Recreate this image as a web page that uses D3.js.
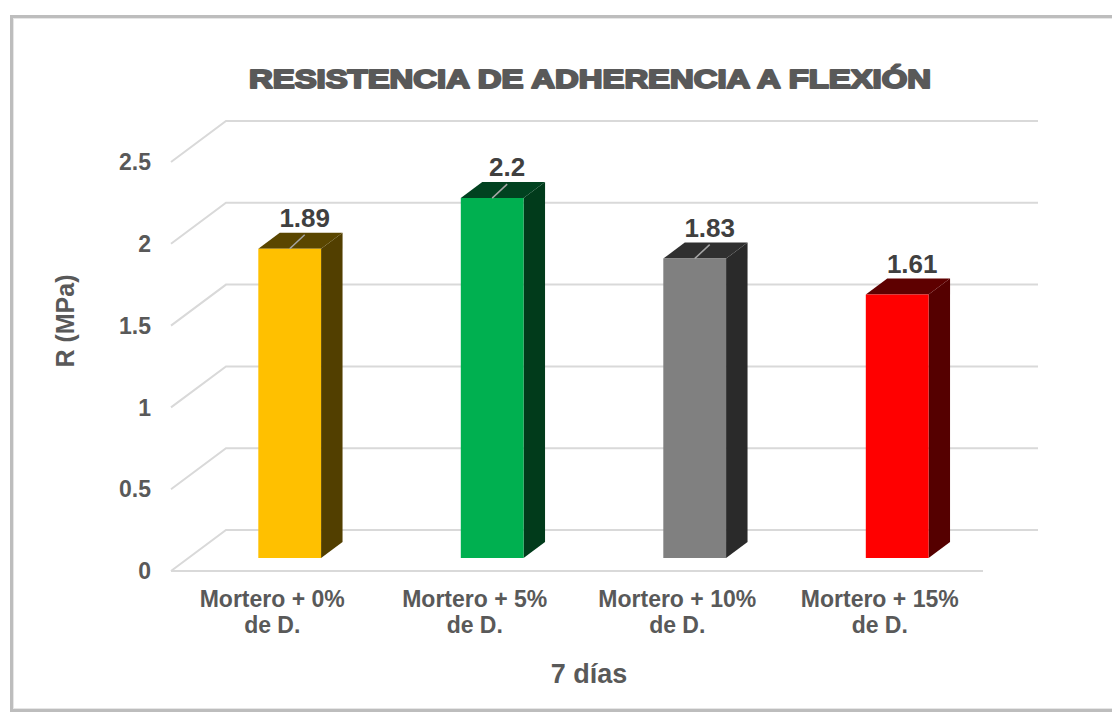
<!DOCTYPE html>
<html>
<head>
<meta charset="utf-8">
<script src="https://cdn.jsdelivr.net/npm/d3@7/dist/d3.min.js"></script>
<style>
  html, body { margin: 0; padding: 0; background: #ffffff; }
  svg { display: block; }
  text { font-family: "Liberation Sans", Arial, sans-serif; font-weight: bold; }
</style>
</head>
<body>
<svg id="chart" width="1112" height="713"></svg>
<script>
// ---- data ----
const categories = [["Mortero + 0%", "de D."], ["Mortero + 5%", "de D."], ["Mortero + 10%", "de D."], ["Mortero + 15%", "de D."]];
const values = [1.89, 2.2, 1.83, 1.61];
const frontColors = ["#FFC000", "#00B050", "#808080", "#FF0000"];
const sideColors = ["#523f00", "#013b1b", "#2a2a2a", "#550000"];
const topColors = ["#5a4600", "#014220", "#303030", "#5e0000"];
const yTicks = [0, 0.5, 1, 1.5, 2, 2.5];
const leaderLines = [true, true, true, false];
const titleText = "RESISTENCIA DE ADHERENCIA A FLEXIÓN";
const xTitle = "7 días";
const yTitle = "R (MPa)";

// ---- layout ----
const svg = d3.select("#chart");
const DX = 55, DY = 41;          // depth offset of back wall
const x = d3.scaleBand().domain(d3.range(categories.length)).range([171, 981]).paddingInner(0.69).paddingOuter(0.345);
const y = d3.scaleLinear().domain([0, 2.5]).range([571, 162]);
const P = (px, v, d) => [px + d * DX, y(v) - d * DY];   // project with depth fraction d

// frame
svg.append("rect").attr("x", 11.5).attr("y", 16.5).attr("width", 1110).attr("height", 694)
  .attr("fill", "#fff").attr("stroke", "#bdbdbd").attr("stroke-width", 3);
svg.append("rect").attr("x", 13.5).attr("y", 18.5).attr("width", 1106).attr("height", 690)
  .attr("fill", "none").attr("stroke", "#e6e6e6").attr("stroke-width", 1);

// gridlines: back wall + left wall diagonals
const g = svg.append("g").attr("stroke", "#d9d9d9").attr("stroke-width", 2).attr("fill", "none");
const x0 = 171, x1 = 983;
yTicks.forEach(t => {
  const a = P(x0, t, 0), b = P(x0, t, 1), c = P(x1, t, 1);
  g.append("polyline").attr("points", [a, b, c].map(p => p.join(",")).join(" "));
});
// front floor edge
g.append("line").attr("x1", x0).attr("y1", y(0)).attr("x2", x1).attr("y2", y(0));

// y tick labels
svg.append("g").selectAll("text").data(yTicks).join("text")
  .attr("x", 151).attr("y", d => y(d)).attr("dy", "0.36em")
  .attr("text-anchor", "end").attr("font-size", 23).attr("fill", "#595959")
  .text(d => d);

// bars
const d0 = 13 / 41, d1 = 29 / 41;
const bars = svg.append("g");
values.forEach((v, i) => {
  const bx = x(i), bw = x.bandwidth();
  const fbl = P(bx, 0, d0), fbr = P(bx + bw, 0, d0), ftl = P(bx, v, d0), ftr = P(bx + bw, v, d0);
  const bbr = P(bx + bw, 0, d1), btl = P(bx, v, d1), btr = P(bx + bw, v, d1);
  const pts = arr => arr.map(p => p.join(",")).join(" ");
  bars.append("polygon").attr("points", pts([fbr, bbr, btr, ftr])).attr("fill", sideColors[i]);
  bars.append("polygon").attr("points", pts([ftl, ftr, btr, btl])).attr("fill", topColors[i]);
  bars.append("polygon").attr("points", pts([fbl, fbr, ftr, ftl])).attr("fill", frontColors[i]);

  const cx = bx + bw / 2 + d0 * DX, ty = y(v) - d0 * DY;
  if (leaderLines[i]) {
    bars.append("line").attr("x1", cx).attr("y1", ty).attr("x2", cx + 15).attr("y2", ty - 14)
      .attr("stroke", "#a6a6a6").attr("stroke-width", 1.5);
  }
  bars.append("text").attr("x", cx + 15).attr("y", ty - 22)
    .attr("text-anchor", "middle").attr("font-size", 26).attr("fill", "#404040")
    .text(v);
});

// category labels
const cl = svg.append("g").attr("font-size", 23).attr("fill", "#595959").attr("text-anchor", "middle");
categories.forEach((lines, i) => {
  const cxl = x(i) + x.bandwidth() / 2;
  const t = cl.append("text").attr("x", cxl).attr("y", 607);
  lines.forEach((ln, k) => t.append("tspan").attr("x", cxl).attr("dy", k === 0 ? 0 : 26).text(ln));
});

// axis titles
svg.append("text").attr("x", 589).attr("y", 683).attr("text-anchor", "middle")
  .attr("font-size", 27).attr("fill", "#595959").text(xTitle);
svg.append("text").attr("transform", "translate(74,321) rotate(-90)").attr("text-anchor", "middle")
  .attr("font-size", 25).attr("fill", "#595959").text(yTitle);

// title
svg.append("text").attr("x", 590).attr("y", 88).attr("text-anchor", "middle")
  .attr("font-size", 26).attr("fill", "#595959").attr("stroke", "#595959").attr("stroke-width", 2)
  .attr("stroke-linejoin", "round")
  .attr("textLength", 682).attr("lengthAdjust", "spacingAndGlyphs")
  .text(titleText);
</script>
</body>
</html>
